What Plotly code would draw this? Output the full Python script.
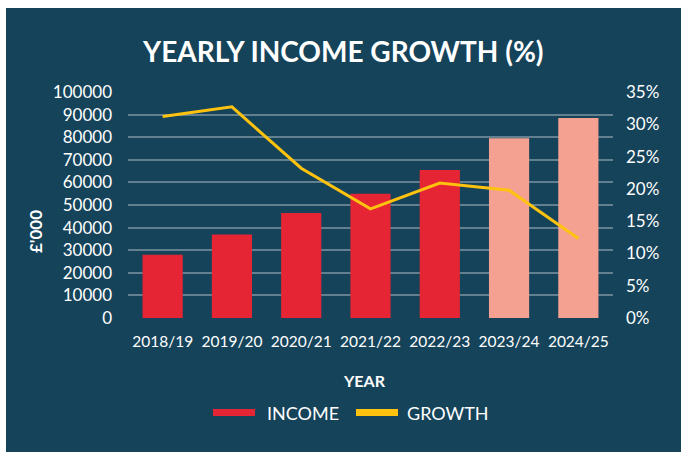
import plotly.graph_objects as go

# Financial years and values
years = ["2018/19", "2019/20", "2020/21", "2021/22", "2022/23", "2023/24", "2024/25"]
income = [28000, 37000, 46500, 55000, 65500, 79500, 88500]          # £'000
growth = [31.2, 32.7, 23.2, 16.9, 20.9, 19.8, 12.3]                 # %
is_forecast = [False, False, False, False, False, True, True]

left_ticks = list(range(0, 100001, 10000))
right_ticks = list(range(0, 36, 5))
right_labels = [f"{v}%" for v in right_ticks]

BG = "#15435A"
RED = "#E52534"
PINK = "#F4A192"
YELLOW = "#FFC20E"
GRID = "#62808F"
FONT = "Lato"

# plot area in pixels (681 x 452 canvas)
W, H = 681, 452
L, R, T, B = 128, 68, 92, 134
pw, ph = W - L - R, H - T - B


def px_x(x):
    return (x - L) / pw


def px_y(y):
    return (H - B - y) / ph


bar_colors = [PINK if f else RED for f in is_forecast]

fig = go.Figure()
fig.add_trace(go.Bar(
    x=years, y=income, marker=dict(color=bar_colors, line=dict(width=0)),
    name="INCOME", showlegend=False,
))
fig.add_trace(go.Scatter(
    x=years, y=growth, yaxis="y2", mode="lines",
    line=dict(color=YELLOW, width=3), name="GROWTH", showlegend=False,
))

shapes = [
    # dark panel behind the whole chart
    dict(type="rect", xref="paper", yref="paper", layer="below",
         x0=px_x(6), x1=px_x(W + 2), y0=px_y(H + 2), y1=px_y(8),
         fillcolor=BG, line=dict(width=0)),
    # legend swatches
    dict(type="rect", xref="paper", yref="paper",
         x0=px_x(213), x1=px_x(255), y0=px_y(416), y1=px_y(409),
         fillcolor=RED, line=dict(width=0)),
    dict(type="rect", xref="paper", yref="paper",
         x0=px_x(356), x1=px_x(398), y0=px_y(416), y1=px_y(409),
         fillcolor=YELLOW, line=dict(width=0)),
]

annotations = [
    dict(text="YEARLY INCOME GROWTH (%)", xref="paper", yref="paper",
         x=px_x(343), y=px_y(51), showarrow=False, xanchor="center", yanchor="middle",
         font=dict(family=FONT, size=28, color="white", weight="bold")),
    dict(text="£'000", xref="paper", yref="paper", textangle=-90,
         x=px_x(35), y=px_y(232), showarrow=False, xanchor="center", yanchor="middle",
         font=dict(family=FONT, size=17, color="white", weight="bold")),
    dict(text="YEAR", xref="paper", yref="paper",
         x=px_x(364), y=px_y(380), showarrow=False, xanchor="center", yanchor="middle",
         font=dict(family=FONT, size=16, color="white", weight="bold")),
    dict(text="INCOME", xref="paper", yref="paper",
         x=px_x(265), y=px_y(413), showarrow=False, xanchor="left", yanchor="middle",
         font=dict(family=FONT, size=18, color="white")),
    dict(text="GROWTH", xref="paper", yref="paper",
         x=px_x(405), y=px_y(413), showarrow=False, xanchor="left", yanchor="middle",
         font=dict(family=FONT, size=18, color="white")),
]

fig.update_layout(
    width=W, height=H,
    margin=dict(l=L, r=R, t=T, b=B, pad=0),
    paper_bgcolor="white",
    plot_bgcolor="rgba(0,0,0,0)",
    bargap=0.42,
    showlegend=False,
    shapes=shapes,
    annotations=annotations,
    font=dict(family=FONT, color="white"),
    xaxis=dict(
        type="category", showgrid=False, zeroline=False, showline=False,
        tickfont=dict(family=FONT, size=15.5, color="white"),
        ticks="", ticklabelstandoff=12,
    ),
    yaxis=dict(
        range=[0, 100000], tickvals=left_ticks, ticktext=[str(v) for v in left_ticks],
        showgrid=True, gridcolor=GRID, gridwidth=2, zeroline=False, showline=False,
        tickfont=dict(family=FONT, size=17, color="white"),
        ticks="", ticklabelstandoff=15,
    ),
    yaxis2=dict(
        overlaying="y", side="right", range=[0, 35], tickvals=right_ticks,
        ticktext=right_labels, showgrid=False, zeroline=False, showline=False,
        tickfont=dict(family=FONT, size=17, color="white"),
        ticks="", ticklabelstandoff=12,
    ),
)

fig.write_html("out.html")
